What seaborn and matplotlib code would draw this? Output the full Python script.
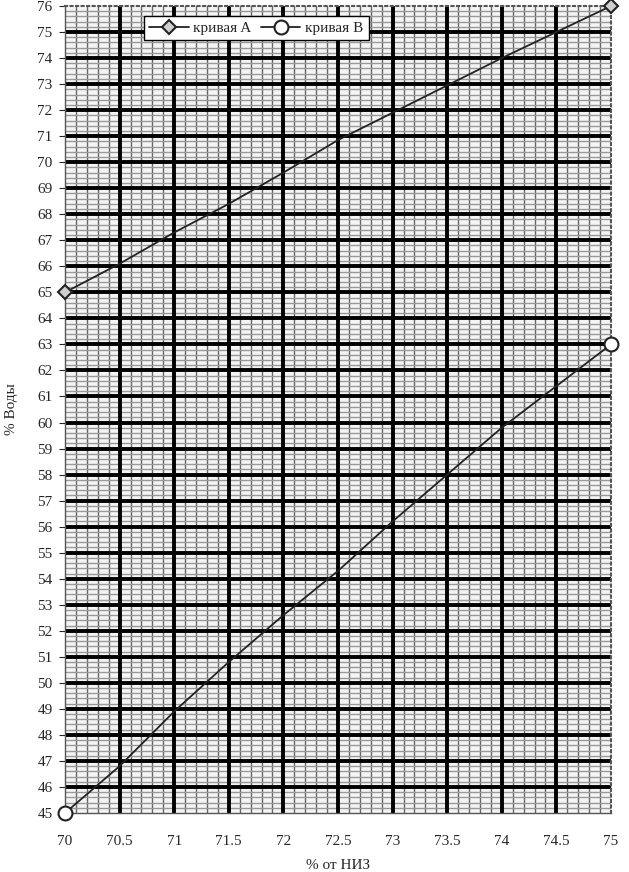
import numpy as np
import pandas as pd
import seaborn as sns
import matplotlib.pyplot as plt
from matplotlib.ticker import MultipleLocator

sns.set_style("white")
plt.rcParams['font.family'] = ['Liberation Serif', 'DejaVu Serif']

# значения
niz = [70, 70.5, 71, 71.5, 72, 72.5, 73, 73.5, 74, 74.5, 75]
krivaya_a = [65, 66.1, 67.3, 68.4, 69.6, 70.85, 71.9, 72.95, 74.0, 75.0, 76]
krivaya_b = [45, 46.8, 48.9, 50.8, 52.6, 54.3, 56.2, 58.0, 59.8, 61.4, 63]

df = pd.DataFrame({'niz': niz, 'A': krivaya_a, 'B': krivaya_b})

fig = plt.figure(figsize=(6.29, 8.72), dpi=100)
ax = fig.add_axes([65 / 629, 59 / 872, 546 / 629, 807 / 872])

ax.set_xlim(70, 75)
ax.set_ylim(45, 76)
ax.xaxis.set_major_locator(MultipleLocator(0.5))
ax.xaxis.set_minor_locator(MultipleLocator(0.1))
ax.yaxis.set_major_locator(MultipleLocator(1))
ax.yaxis.set_minor_locator(MultipleLocator(0.2))

# мелкая сетка
ax.grid(which='minor', axis='x', color='#666666', lw=1.0, zorder=0)
ax.grid(which='minor', axis='y', color='#999999', lw=1.0, zorder=0)
ax.set_axisbelow(True)
ax.set_facecolor('#f4f4f4')

# крупная сетка поверх мелкой
for xv in ax.get_xticks():
    if 70 < xv < 75:
        ax.axvline(xv, color='black', lw=2.8, zorder=2)
for yv in ax.get_yticks():
    if 45 < yv < 76:
        ax.axhline(yv, color='black', lw=2.8, zorder=2)

sns.lineplot(data=df, x='niz', y='A', ax=ax, color='#222222', lw=1.3,
             marker='D', markersize=7, markerfacecolor='#cfcfcf',
             markeredgecolor='#222222', markeredgewidth=1.5,
             markevery=[0, len(niz) - 1], label='кривая A', zorder=5, clip_on=False)
sns.lineplot(data=df, x='niz', y='B', ax=ax, color='#222222', lw=1.3,
             marker='o', markersize=10, markerfacecolor='white',
             markeredgecolor='#222222', markeredgewidth=1.5,
             markevery=[0, len(niz) - 1], label='кривая B', zorder=5, clip_on=False)

ax.set_xticks(niz)
ax.set_xticklabels(['70', '70.5', '71', '71.5', '72', '72.5', '73', '73.5', '74', '74.5', '75'])
ax.tick_params(axis='x', which='major', length=0, pad=16, labelsize=11)
ax.tick_params(axis='y', which='major', length=4, pad=5, labelsize=11, left=True)
ax.tick_params(which='minor', length=0)

ax.set_xlabel('% от НИЗ', fontsize=11, labelpad=8)
ax.set_ylabel('% Воды', fontsize=11)
ax.yaxis.set_label_coords(-0.086, 0.5)

for side in ['top', 'right']:
    ax.spines[side].set_linestyle(':')
    ax.spines[side].set_color('#555555')
    ax.spines[side].set_linewidth(1.5)
for side in ['left', 'bottom']:
    ax.spines[side].set_color('#555555')
    ax.spines[side].set_linewidth(1.0)

leg = ax.legend(loc='upper left', bbox_to_anchor=(0.13, 0.997), ncol=2,
                fontsize=11, frameon=True, fancybox=False, framealpha=1,
                edgecolor='black', handlelength=2.6, columnspacing=0.6,
                handletextpad=0.3, borderpad=0.35)
leg.get_frame().set_linewidth(1.0)
leg.set_zorder(10)

fig.savefig('out.png', dpi=100)
